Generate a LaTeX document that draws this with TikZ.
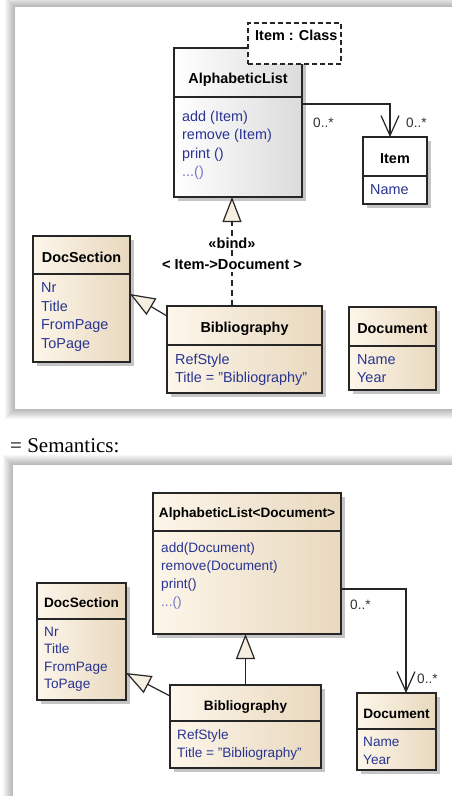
\documentclass[tikz,border=0pt]{standalone}
\usepackage{fontspec}
\setmainfont{Liberation Sans}[Ligatures=NoCommon]
\newfontfamily\serifrm{Liberation Serif}
\usetikzlibrary{arrows.meta,shadows,calc}
\definecolor{attr}{RGB}{40,52,145}
\definecolor{dotsc}{RGB}{110,120,200}
\definecolor{beigeL}{RGB}{253,246,234}
\definecolor{beigeR}{RGB}{232,216,190}
\definecolor{trifill}{RGB}{246,238,224}
\newcommand\umlbox[7]{%
  \node[#2, minimum width={(#5)-(#3)}, minimum height={(#7)-(#4)}] (#1) at (#3,#4) {};
  \draw[divider] (#1.west |- 0,#6) -- (#1.east |- 0,#6);
}
\newcommand\sq{\symbol{34}}
\tikzset{
  box/.style={draw=black!85, line width=1.3pt, anchor=north west, inner sep=0pt, outer sep=0pt,
    drop shadow={shadow xshift=4pt, shadow yshift=-4pt, fill=black!45, opacity=.5}},
  beigebox/.style={box, left color=beigeL, right color=beigeR},
  whitebox/.style={box, fill=white},
  greybox/.style={box, left color=white, right color=black!14},
  divider/.style={draw=black!85, line width=1.3pt},
  titleA/.style={font=\fontsize{14.4}{18}\selectfont\bfseries, anchor=base, inner sep=0pt},
  titleB/.style={font=\fontsize{13.6}{17}\selectfont\bfseries, anchor=base, inner sep=0pt},
  attrA/.style={font=\fontsize{14.4}{18.6}\selectfont, text=attr, align=left, anchor=north west, inner sep=0pt},
  attrB/.style={font=\fontsize{13.6}{17.6}\selectfont, text=attr, align=left, anchor=north west, inner sep=0pt},
  mult/.style={font=\fontsize{13.6}{16}\selectfont, text=black!80, anchor=base west, inner sep=0pt},
  assoc/.style={draw=black!85, line width=1.2pt, -{Straight Barb[length=20pt,width=18pt,line width=1.2pt]}},
  gen/.style={draw=black!85, line width=1.2pt, -{Triangle[length=25pt,width=19pt,fill=trifill,line width=1.2pt]}},
  bindline/.style={gen, dash pattern=on 6pt off 4pt},
  bindlbl/.style={font=\fontsize{14.6}{17}\selectfont\bfseries, fill=white, inner sep=1.5pt},
}
\begin{document}
\begin{tikzpicture}[x=1pt,y=-1pt]
\useasboundingbox (0,0) rectangle (451,796);
% panel shadows
\foreach \k in {1,...,10} {
  \fill[black, opacity=0.03] (15-\k,7-\k) rectangle (480,409+\k);
  \fill[black, opacity=0.03] (13-\k,465-\k) rectangle (480,820);
}
\fill[white] (15,7) rectangle (480,409);
\fill[white] (13,465) rectangle (480,820);
\node[font=\serifrm\fontsize{21}{24}\selectfont, anchor=base west, inner sep=0pt] (sem) at (10,452) {= Semantics:};

% ===== top panel =====
\umlbox{al1}{greybox}{174}{48}{302}{97}{197}
\node[titleA] (al1t) at (238,83) {AlphabeticList};
\node[attrA] (al1a) at (182,110.5) {add (Item)\\remove (Item)\\print ()\\\textcolor{dotsc}{...()}};
\node[draw=black!85, fill=white, line width=1.3pt, dash pattern=on 5pt off 3pt, anchor=north west,
  minimum width=93pt, minimum height=41pt, inner sep=0pt, outer sep=0pt] (tpl) at (248,23) {};
\node[titleA, anchor=base west] (tplt) at (255,40) {Item : Class};

\umlbox{item1}{whitebox}{363}{137}{427}{176}{204}
\node[titleA] (item1t) at (395,163) {Item};
\node[attrA] (item1a) at (370,184.5) {Name};

\umlbox{doc1}{beigebox}{33}{236}{130}{274}{362}
\node[titleA] (doc1t) at (81.5,262) {DocSection};
\node[attrA] (doc1a) at (41,282.5) {Nr\\Title\\FromPage\\ToPage};

\umlbox{bib1}{beigebox}{167}{306}{322}{345}{393}
\node[titleA] (bib1t) at (244.5,332) {Bibliography};
\node[attrA, font=\fontsize{14.4}{18}\selectfont] (bib1a) at (175,353.5) {RefStyle\\Title = \sq Bibliography\sq};

\umlbox{docu1}{beigebox}{349}{307}{436}{346}{390}
\node[titleA] (docu1t) at (392.5,333) {Document};
\node[attrA, font=\fontsize{14.4}{18}\selectfont] (docu1a) at (357,354.5) {Name\\Year};

\draw[assoc] (al1.east |- 0,104) -| ($(item1.north west)+(27,0)$);
\node[mult] (m1) at (313,127) {0..*};
\node[mult] (m2) at (406,127) {0..*};
\coordinate (bindx) at ($(bib1.north west)+(65,0)$);
\draw[bindline] (bindx) -- (bindx |- al1.south);
\node[bindlbl] (bind1) at (232,243) {«bind»};
\node[bindlbl] (bind2) at (232,265) {< Item->Document >};
\draw[gen] (bib1.west |- 0,316) -- (doc1.east |- 0,294);

% ===== bottom panel =====
\umlbox{al2}{beigebox}{153}{493}{341}{531}{634}
\node[titleB] (al2t) at (247,517) {AlphabeticList<Document>};
\node[attrB, font=\fontsize{13.6}{18}\selectfont] (al2a) at (161,542.5) {add(Document)\\remove(Document)\\print()\\\textcolor{dotsc}{...()}};

\umlbox{doc2}{beigebox}{37}{583}{126}{619}{700}
\node[titleB] (doc2t) at (81.5,607) {DocSection};
\node[attrB] (doc2a) at (44,626.5) {Nr\\Title\\FromPage\\ToPage};

\umlbox{bib2}{beigebox}{170}{685}{321}{721}{768}
\node[titleB] (bib2t) at (245.5,710) {Bibliography};
\node[attrB] (bib2a) at (177,729.5) {RefStyle\\Title = \sq Bibliography\sq};

\umlbox{docu2}{beigebox}{357}{693}{436}{729}{770}
\node[titleB] (docu2t) at (396.5,718) {Document};
\node[attrB, font=\fontsize{13.6}{18.5}\selectfont] (docu2a) at (363,736.5) {Name\\Year};

\draw[assoc] (al2.east |- 0,589) -| ($(docu2.north west)+(49,0)$);
\node[mult] (m3) at (350,609) {0..*};
\node[mult] (m4) at (417,683) {0..*};
\draw[gen] (bib2.north) -- (bib2.north |- al2.south);
\draw[gen] (bib2.west |- 0,696) -- (doc2.east |- 0,673);
\end{tikzpicture}
\end{document}
